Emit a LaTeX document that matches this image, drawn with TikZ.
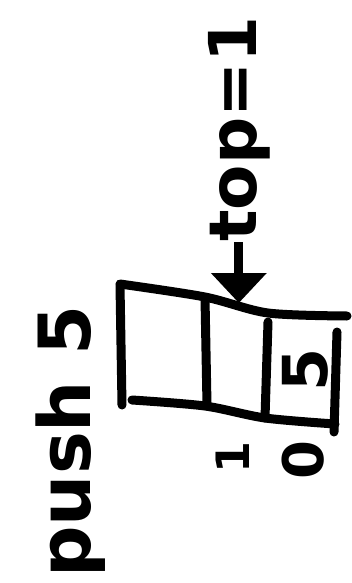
\documentclass[tikz,border=0pt]{standalone}
\usepackage{fontspec}
\setmainfont{DejaVu Sans}
\usepackage{tikz}
\usetikzlibrary{arrows.meta,positioning}

\begin{document}
\begin{tikzpicture}[
  x=1pt,y=-1pt,
  pen/.style={line width=9pt,line cap=round,line join=round},
  hand/.style={inner sep=0pt,rotate=90},
  flow/.style={-{Triangle[length=30pt,width=54pt]},line width=9pt}
]
\useasboundingbox (0,0) rectangle (351,583);
% stack frame, three slots
\coordinate (tl) at (120,285);
\coordinate (bl) at (122,405);
\coordinate (tgt) at (236,303);
\draw[pen] plot[smooth] coordinates {(120,284) (205,297) (268,313) (347,316)};
\draw[pen] plot[smooth] coordinates {(132,400) (205,406) (265,418) (335,424)};
\draw[pen] (tl) -- (bl);
\draw[pen] (205,298) -- (207,405);
\draw[pen] (268,322) -- (265,418);
\draw[pen] (337,332) -- (334,432);
% labels
\node[hand,anchor=base west,font=\fontsize{72}{72}\selectfont\bfseries] (push) at (90,578) {push 5};
\node[hand,anchor=base west,font=\fontsize{66}{66}\selectfont\bfseries] (toplbl) at (256,242) {top=1};
\node[hand,font=\fontsize{62}{62}\selectfont\bfseries] (val) at (305,370) {5};
\node[hand,font=\fontsize{46}{46}\selectfont\bfseries] (idx1) at (233,457) {1};
\node[hand,font=\fontsize{56}{56}\selectfont\bfseries] (idx0) at (303,460) {0};
\draw[flow] (toplbl.west) -- (toplbl.west |- tgt);
\end{tikzpicture}
\end{document}
